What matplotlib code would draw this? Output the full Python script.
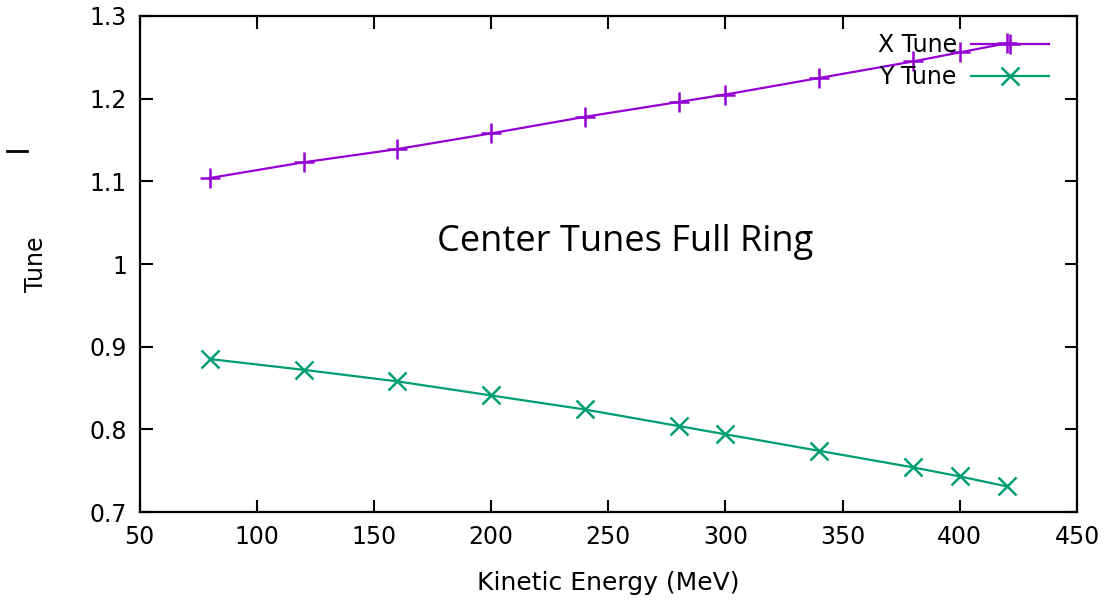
import matplotlib
matplotlib.use("Agg")
import matplotlib.pyplot as plt
from matplotlib.lines import Line2D

# kinetic energy (MeV) and measured center tunes
energy = [80, 120, 160, 200, 240, 280, 300, 340, 380, 400, 420]
x_tune = [1.104, 1.123, 1.139, 1.158, 1.178, 1.196, 1.205, 1.225, 1.245, 1.256, 1.267]
y_tune = [0.885, 0.872, 0.858, 0.841, 0.824, 0.804, 0.794, 0.774, 0.754, 0.743, 0.731]

purple = "#9400D3"
green = "#009E73"

fig = plt.figure(figsize=(11.09, 6.02), dpi=100)
ax = fig.add_axes([139.5 / 1109, 1 - 512 / 602, (1077 - 139.5) / 1109, (512 - 16) / 602])

ax.plot(energy, x_tune, color=purple, lw=1.6, marker="+", ms=14, mew=1.8, label="X Tune")
ax.plot(energy, y_tune, color=green, lw=1.6, marker="x", ms=13, mew=1.8, label="Y Tune")

ax.set_xlim(50, 450)
ax.set_ylim(0.7, 1.3)
ax.set_xticks(range(50, 451, 50))
ax.set_yticks([0.7, 0.8, 0.9, 1.0, 1.1, 1.2, 1.3])
ax.set_yticklabels(["0.7", "0.8", "0.9", "1", "1.1", "1.2", "1.3"])
ax.tick_params(direction="in", top=True, right=True, length=9, width=1.5,
               labelsize=17, pad=9)
for s in ax.spines.values():
    s.set_linewidth(1.6)

ax.set_xlabel("Kinetic Energy (MeV)", fontsize=18, labelpad=16)
ax.set_ylabel("Tune", fontsize=17, labelpad=30)

ax.text(0.518, 0.545, "Center Tunes Full Ring", transform=ax.transAxes,
        ha="center", va="center", fontsize=26, family="Open Sans")

ax.legend(loc="upper right", frameon=False, markerfirst=False, fontsize=17,
          handlelength=3.3, handletextpad=0.6, labelspacing=0.35,
          borderaxespad=0.0, bbox_to_anchor=(0.98, 0.985))

# small stray dash on the left margin
fig.add_artist(Line2D([7 / 1109, 27 / 1109], [1 - 151 / 602] * 2, color="black", lw=2))

fig.savefig("out.png", dpi=100)
